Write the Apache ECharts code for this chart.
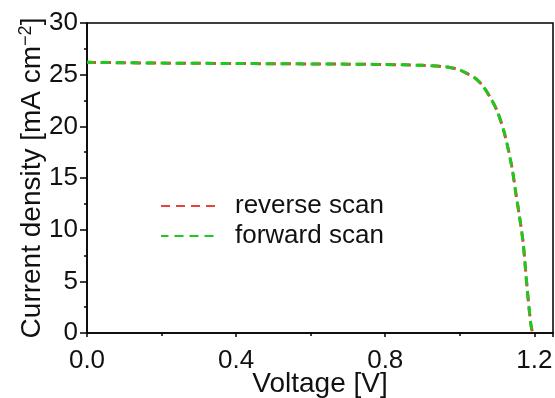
<!DOCTYPE html>
<html>
<head>
<meta charset="utf-8">
<script src="https://cdn.jsdelivr.net/npm/echarts@6/dist/echarts.min.js"></script>
<style>html,body{margin:0;padding:0;background:#fff}#c{width:555px;height:398px}</style>
</head>
<body>
<div id="c"></div>
<script>
var voltage = [0, 0.1, 0.2, 0.3, 0.4, 0.5, 0.6, 0.7, 0.8, 0.85, 0.9, 0.95, 0.98, 1.0, 1.02, 1.04, 1.06, 1.08, 1.1, 1.12, 1.14, 1.15, 1.16, 1.17, 1.18, 1.19, 1.195];
var reverseScan = [26.2, 26.15, 26.12, 26.1, 26.08, 26.06, 26.04, 26.02, 25.98, 25.95, 25.9, 25.8, 25.65, 25.45, 25.1, 24.7, 24.0, 22.9, 21.5, 19.3, 16.0, 13.6, 11.3, 8.7, 4.6, 1.0, 0];
var forwardScan = [26.2, 26.15, 26.12, 26.1, 26.08, 26.06, 26.04, 26.02, 25.98, 25.95, 25.9, 25.8, 25.65, 25.45, 25.1, 24.7, 24.0, 22.9, 21.5, 19.3, 16.0, 13.6, 11.3, 8.7, 4.6, 1.0, 0];
var seriesNames = ['reverse scan', 'forward scan'];
var xTicks = [0, 0.4, 0.8, 1.2];

var FONT = "Arial, 'Liberation Sans', sans-serif";
function pairs(xs, ys) { return xs.map(function (x, i) { return [x, ys[i]]; }); }

var chart = echarts.init(document.getElementById('c'), null, {renderer: 'canvas'});
chart.setOption({
  animation: false,
  backgroundColor: '#fff',
  grid: {left: 87, right: 2, top: 23, bottom: 65, containLabel: false, outerBoundsMode: 'none',
    show: true, borderColor: '#000', borderWidth: 1.5, backgroundColor: 'transparent'},
  legend: {
    orient: 'vertical', left: 155, top: 188, itemWidth: 56, itemHeight: 14, itemGap: 4,
    itemStyle: {opacity: 0},
    textStyle: {fontFamily: FONT, fontSize: 26, color: '#111', padding: [0, 0, 0, 13]},
    data: seriesNames
  },
  xAxis: {
    type: 'value', min: 0, max: 1.25, interval: 0.4,
    name: 'Voltage [V]', nameLocation: 'middle', nameGap: 37, nameMoveOverlap: false,
    nameTextStyle: {fontFamily: FONT, fontSize: 28, color: '#111'},
    axisLine: {lineStyle: {color: '#000', width: 1.5}},
    axisTick: {show: true, length: 4, lineStyle: {color: '#000', width: 1.5}},
    minorTick: {show: true, splitNumber: 2, length: 3, lineStyle: {color: '#000', width: 1.5}},
    splitLine: {show: false},
    axisLabel: {fontFamily: FONT, fontSize: 26, color: '#111', margin: 15,
      formatter: function (v) { return xTicks.indexOf(Math.round(v * 10) / 10) >= 0 ? v.toFixed(1) : ''; }}
  },
  yAxis: {
    type: 'value', min: 0, max: 30, interval: 5,
    name: 'Current density [mA cm{sup|\u22122}]', nameLocation: 'middle', nameGap: 40, nameRotate: 90, nameMoveOverlap: false,
    nameTextStyle: {fontFamily: FONT, fontSize: 28, color: '#111',
      rich: {sup: {fontFamily: FONT, fontSize: 18, color: '#111', verticalAlign: 'top', padding: [0, 0, 12, 0]}}},
    axisLine: {lineStyle: {color: '#000', width: 1.5}},
    axisTick: {show: true, length: 7, lineStyle: {color: '#000', width: 1.5}},
    minorTick: {show: true, splitNumber: 2, length: 3, lineStyle: {color: '#000', width: 1.5}},
    splitLine: {show: false},
    axisLabel: {fontFamily: FONT, fontSize: 26, color: '#111', margin: 9}
  },
  series: [
    {name: seriesNames[0], type: 'line', data: pairs(voltage, reverseScan), smooth: 0.3,
     symbol: 'none', showSymbol: false, itemStyle: {color: '#e8403a'},
     lineStyle: {color: '#e8403a', width: 3, type: [9, 6]}},
    {name: seriesNames[1], type: 'line', data: pairs(voltage, forwardScan), smooth: 0.3,
     symbol: 'none', showSymbol: false, itemStyle: {color: '#1fc81f'},
     lineStyle: {color: '#1fc81f', width: 3, type: [9, 6], dashOffset: 1.5}}
  ]
});
</script>
</body>
</html>
